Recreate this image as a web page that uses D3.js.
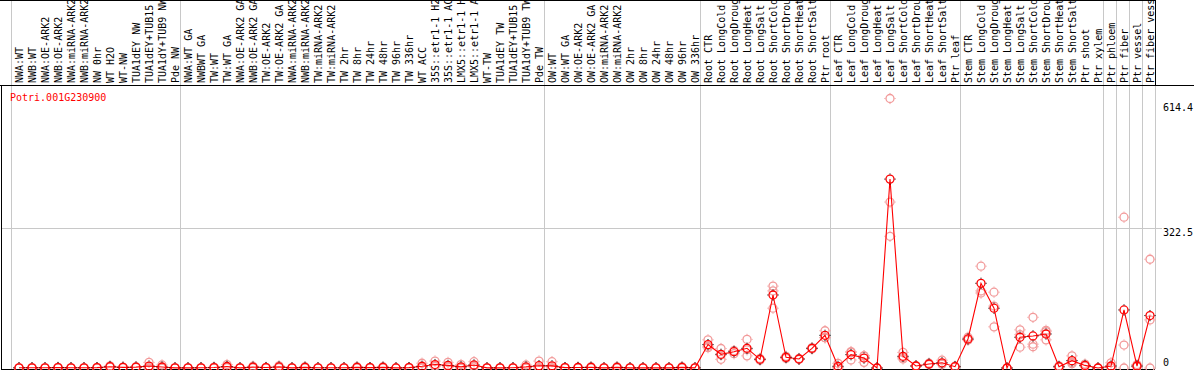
<!DOCTYPE html>
<html>
<head>
<meta charset="utf-8">
<script src="https://cdn.jsdelivr.net/npm/d3@7"></script>
<style>
  html, body { margin: 0; padding: 0; background: #fff; }
  svg { display: block; }
  text { font-family: "DejaVu Sans Mono", monospace; font-size: 10px; }
</style>
</head>
<body>
<svg id="chart" width="1194" height="370"></svg>
<script>
// Gen-Name
const geneName = 'Potri.001G230900';

// Probennamen (wie im Bild abgeschnitten)
const sampleLabels = [
    'NWA:WT', 'NWB:WT', 'NWA:OE-ARK2', 'NWB:OE-ARK2', 'NWA:miRNA-ARK2', 'NWB:miRNA-ARK2', 'NW 0hr', 'WT H2O', 'WT-NW',
    'TUA1dEY NW', 'TUA1dEY+TUB15', 'TUA1dY+TUB9 NW', 'Pde NW',
    'NWA:WT GA', 'NWBWT GA', 'TW:WT', 'TW:WT GA', 'NWA:OE-ARK2 GA', 'NWB:OE-ARK2 GA', 'TW:OE-ARK2', 'TW:OE-ARK2 GA',
    'NWA:miRNA-ARK2', 'NWB:miRNA-ARK2', 'TW:miRNA-ARK2', 'TW:miRNA-ARK2', 'TW 2hr', 'TW 8hr', 'TW 24hr', 'TW 48hr',
    'TW 96hr', 'TW 336hr', 'WT ACC', '35S::etr1-1 H2', '35S::etr1-1 AC', 'LMX5::etr1-1 H', 'LMX5::etr1-1 A', 'WT-TW',
    'TUA1dEY TW', 'TUA1dEY+TUB15', 'TUA1dY+TUB9 TW', 'Pde TW',
    'OW:WT', 'OW:WT GA', 'OW:OE-ARK2', 'OW:OE-ARK2 GA', 'OW:miRNA-ARK2', 'OW:miRNA-ARK2', 'OW 2hr', 'OW 8hr', 'OW 24hr',
    'OW 48hr', 'OW 96hr', 'OW 336hr',
    'Root CTR', 'Root LongCold', 'Root LongDroug', 'Root LongHeat', 'Root LongSalt', 'Root ShortCold', 'Root ShortDrou',
    'Root ShortHeat', 'Root ShortSalt', 'Ptr root',
    'Leaf CTR', 'Leaf LongCold', 'Leaf LongDroug', 'Leaf LongHeat', 'Leaf LongSalt', 'Leaf ShortCold', 'Leaf ShortDrou',
    'Leaf ShortHeat', 'Leaf ShortSalt', 'Ptr leaf',
    'Stem CTR', 'Stem LongCold', 'Stem LongDroug', 'Stem LongHeat', 'Stem LongSalt', 'Stem ShortCold', 'Stem ShortDrou',
    'Stem ShortHeat', 'Stem ShortSalt', 'Ptr shoot', 'Ptr xylem',
    'Ptr phloem', 'Ptr fiber', 'Ptr vessel', 'Ptr fiber vess'
];

// Gruppengroessen (Trennlinien)
const groupSizes = [13, 28, 12, 10, 10, 11, 1, 1, 1, 1];

// Mittelwerte
const meanValues = [
    0.5, 0.5, 0.5, 1, 0.5, 0.5, 0.8, 3, 1.5, 2, 4.5, 2.3, 0.3,
    0.3, 0.5, 1, 3.5, 0.3, 2, 1, 2.5, 0.3, 1.5, 0.5, 0.5, 0.5, 1.5, 0.8, 1.5, 0.2, 0.8,
    4, 8, 6, 2.7, 7, 0.3, 0.3, 0.5, 2.5, 5.3,
    5, 0.8, 1.2, 1.5, 0.3, 1.5, 0.3, 0.3, 0.3, 0.3, 1.5, 0.3,
    54, 31.6, 37.7, 45.4, 20, 168.5, 24.6, 20.8, 45.4, 75.4,
    3.9, 30.8, 23, 0, 436, 27, 4.6, 9.2, 12, 3,
    67, 195.5, 138, 0, 71, 74, 78.5, 3, 17, 6, 0,
    4.6, 134, 4.6, 121
];

// Einzelwerte (Replikate)
const replicateValues = [
    [0.5, 0.5, 0.5], [0.8, 0.5, 0.3], [0.6, 0.5, 0.4], [1.5, 0.8, 0.7], [0.5, 0.5, 0.5], [0.5, 0.5, 0.5],
    [1, 0.8, 0.6], [5, 2, 2], [2, 1, 1.5], [3, 1.5, 1.5], [13, 0.5, 0], [7, 0, 0], [0.3, 0.3, 0.3],
    [0.3, 0.3, 0.3], [0.5, 0.5, 0.5], [2, 0.5, 0.5], [8, 1.5, 1], [0.3, 0.3, 0.3], [4, 1, 1], [1, 1, 1],
    [5, 1.5, 1], [0.3, 0.3, 0.3], [3, 1, 0.5], [0.5, 0.5, 0.5], [0.5, 0.5, 0.5], [0.5, 0.5, 0.5],
    [3, 1, 0.5], [0.8, 0.8, 0.8], [3, 1, 0.5], [0.2, 0.2, 0.2], [0.8, 0.8, 0.8],
    [11, 1, 0], [16, 5, 3], [13, 3, 2], [8, 0, 0], [14.5, 4, 2.5], [0.3, 0.3, 0.3], [0.3, 0.3, 0.3],
    [0.5, 0.5, 0.5], [7, 0.5, 0], [16, 0, 0],
    [14.5, 0.5, 0], [0.8, 0.8, 0.8], [1.2, 1.2, 1.2], [3, 1, 0.5], [0.3, 0.3, 0.3], [3, 1, 0.5],
    [0.3, 0.3, 0.3], [0.3, 0.3, 0.3], [0.3, 0.3, 0.3], [0.3, 0.3, 0.3], [3, 1, 0.5], [0.3, 0.3, 0.3],
    [65, 47, 50], [45, 20, 30], [40, 33, 40], [66, 28, 42], [22, 18, 20], [189, 138, 178], [27, 22, 25],
    [22, 20, 20], [47, 44, 45], [86, 70, 70],
    [10.8, 1, 0], [36, 18.5, 38], [28, 13, 28], [0, 0, 0], [622, 383, 304], [36, 21, 24], [5, 4, 5],
    [11, 8, 9], [18, 9, 9], [4, 2, 3],
    [71, 65, 65], [235, 178, 173], [175, 95, 143], [0, 0, 0], [88, 48, 77], [117, 55, 49], [84, 87, 65],
    [5, 2, 2], [28, 13, 10], [9, 5, 4], [0, 0, 0],
    [12, 1, 1], [348, 53, 0], [8, 3, 3], [251, 0, 111]
];

// Y-Achsen-Ticks
const yTicks = [0, 322.5, 614.4];

const svg = d3.select('#chart');
const W = 1194, H = 370;
const labelBottom = 85;
const plotLeft = 11, plotRight = 1155;
const plotBottom = 369;

// Skalen
const xEdge = d3.scaleLinear().domain([0, sampleLabels.length]).range([plotLeft, plotRight]);
const xPos = i => xEdge(i + 0.5) + 1.5;
const y = d3.scaleLinear().domain([0, 614.4]).range([368, 101.8]);

// Gruppen-Grenzen
const bounds = [0];
groupSizes.forEach(s => bounds.push(bounds[bounds.length - 1] + s));

// Gitter: horizontale Linie bei 322.5
svg.append('line')
    .attr('x1', 1).attr('x2', 1162)
    .attr('y1', Math.round(y(322.5)) + 0.5).attr('y2', Math.round(y(322.5)) + 0.5)
    .style('stroke', '#c8c8c8');

// Vertikale Trennlinien
bounds.forEach((b, k) => {
    const x = Math.round(xEdge(b)) + 0.5;
    svg.append('line')
        .attr('x1', x).attr('x2', x)
        .attr('y1', k === bounds.length - 1 ? labelBottom : 0)
        .attr('y2', plotBottom)
        .style('stroke', '#c8c8c8');
});
// rechte Kante im Beschriftungsbereich
svg.append('line')
    .attr('x1', Math.round(xEdge(bounds[bounds.length - 1])) + 0.5)
    .attr('x2', Math.round(xEdge(bounds[bounds.length - 1])) + 0.5)
    .attr('y1', 0).attr('y2', labelBottom)
    .style('stroke', '#000');

// Rahmenlinien
svg.append('line').attr('x1', 0).attr('x2', 1156).attr('y1', 0.5).attr('y2', 0.5).style('stroke', '#000');
svg.append('line').attr('x1', 0).attr('x2', W).attr('y1', labelBottom + 0.5).attr('y2', labelBottom + 0.5).style('stroke', '#000');
svg.append('line').attr('x1', 1.5).attr('x2', 1.5).attr('y1', labelBottom).attr('y2', plotBottom + 1).style('stroke', '#000');
svg.append('line').attr('x1', 1).attr('x2', plotRight).attr('y1', plotBottom + 0.5).attr('y2', plotBottom + 0.5).style('stroke', '#000');

// Probennamen (senkrecht)
svg.append('g')
    .selectAll('text')
    .data(sampleLabels)
    .enter()
    .append('text')
    .attr('transform', (d, i) => `translate(${xPos(i) + 3.5},${labelBottom - 2}) rotate(-90)`)
    .style('fill', '#000')
    .text(d => d);

// Gen-Name
svg.append('text')
    .attr('x', 10)
    .attr('y', 101)
    .style('fill', '#ff0000')
    .text(geneName);

// Y-Beschriftung rechts
yTicks.forEach(t => {
    svg.append('text')
        .attr('x', 1163)
        .attr('y', t === 0 ? y(t) - 2.5 : y(t) + (t > 500 ? 8.8 : 7.5))
        .style('fill', '#000')
        .text(t === 0 ? '0' : t.toFixed(1));
});

// Marker: Kreis mit kurzen Strahlen
function drawMarker(g, cx, cy, color, spurColor) {
    const m = g.append('g').attr('transform', `translate(${cx},${cy})`);
    m.append('circle')
        .attr('r', 4)
        .style('fill', 'none')
        .style('stroke', color)
        .style('stroke-width', 1.3);
    [[0, -1], [0, 1], [-1, 0], [1, 0]].forEach(([dx, dy]) => {
        m.append('line')
            .attr('x1', dx * 4.6).attr('y1', dy * 4.6)
            .attr('x2', dx * 5.6).attr('y2', dy * 5.6)
            .style('stroke', spurColor)
            .style('stroke-width', 1);
    });
}

// Replikate (hell)
const repG = svg.append('g');
replicateValues.forEach((reps, i) => {
    reps.forEach(v => drawMarker(repG, xPos(i), y(v), '#f29a9a', '#f29a9a'));
});

// Mittelwert-Linie
const line = d3.line()
    .x((d, i) => xPos(i))
    .y(d => y(d));

svg.append('path')
    .datum(meanValues)
    .attr('d', line)
    .style('fill', 'none')
    .style('stroke', '#ff0000')
    .style('stroke-width', 1.1);

// Mittelwerte
const meanG = svg.append('g');
meanValues.forEach((v, i) => drawMarker(meanG, xPos(i), y(v), '#ff0000', '#000'));
</script>
</body>
</html>
